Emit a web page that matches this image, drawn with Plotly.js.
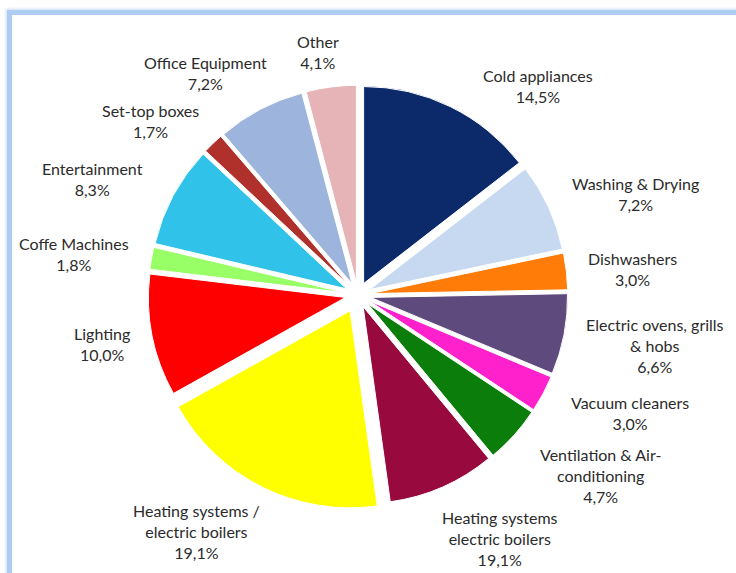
<!DOCTYPE html>
<html>
<head>
<meta charset="utf-8">
<script src="https://cdn.plot.ly/plotly-3.0.1.min.js"></script>
<style>
  html, body { margin: 0; padding: 0; background: #ffffff; overflow: hidden; }
  #frame { position: absolute; left: 7px; top: 10px; width: 800px; height: 700px;
           border-left: 5px solid #aecbf0; border-top: 5px solid #aecbf0;
           box-shadow: -1px -1px 3px #c8dcf5; }
  #chart { position: absolute; left: 0; top: 0; width: 736px; height: 573px; }
</style>
</head>
<body>
<div id="frame"></div>
<div id="chart"></div>
<script>
// ---- data ----
const categories = [
  "Cold appliances",
  "Washing & Drying",
  "Dishwashers",
  "Electric ovens, grills<br>& hobs",
  "Vacuum cleaners",
  "Ventilation & Air-<br>conditioning",
  "Heating systems<br>electric boilers",
  "Heating systems /<br>electric boilers",
  "Lighting",
  "Coffe Machines",
  "Entertainment",
  "Set-top boxes",
  "Office Equipment",
  "Other"
];
// slice sizes as drawn in the picture
const shares = [14.5, 7.2, 3.0, 6.6, 3.0, 4.7, 8.8, 19.1, 10.0, 1.8, 8.3, 1.7, 7.2, 4.1];
// percentages as printed on the labels
const shareLabels = ["14,5%", "7,2%", "3,0%", "6,6%", "3,0%", "4,7%", "19,1%", "19,1%", "10,0%", "1,8%", "8,3%", "1,7%", "7,2%", "4,1%"];

// ---- styles ----
const colors = ["#0c2a6a", "#c6d9f1", "#ff7c08", "#5f4a7e", "#ff22cc", "#0a7d0a", "#98093d",
                "#ffff00", "#ff0000", "#99ff66", "#30c2e8", "#b0302c", "#9db5dc", "#e6b4b6"];
const pulls = [0.065, 0.065, 0.065, 0.065, 0.065, 0.065, 0.065, 0.09, 0.065, 0.065, 0.065, 0.065, 0.065, 0.065];
// label anchor positions in pixels (x, y of text centre)
const labelPos = [[538, 86], [635, 194], [632, 269], [655, 345], [630, 413], [600, 475], [500, 538],
                  [196, 531], [102, 344], [74, 254], [92, 179], [150, 121], [205, 73], [318, 52]];

const W = 736, H = 573;
const annotations = categories.map((c, i) => ({
  text: c + "<br>" + shareLabels[i],
  xref: "paper", yref: "paper",
  x: labelPos[i][0] / W, y: 1 - labelPos[i][1] / H,
  xanchor: "center", yanchor: "middle",
  showarrow: false, align: "center",
  font: { family: "Lato, 'Open Sans', sans-serif", size: 16, color: "#2b2b2b" }
}));

const trace = {
  type: "pie",
  labels: categories,
  values: shares,
  sort: false,
  direction: "clockwise",
  rotation: 0,
  pull: pulls,
  textinfo: "none",
  hoverinfo: "label+percent",
  marker: { colors: colors, line: { color: "#ffffff", width: 1 } },
  domain: { x: [0.1947, 0.7781], y: [0.1105, 0.8599] },
  showlegend: false
};

const layout = {
  width: W, height: H,
  margin: { l: 0, r: 0, t: 0, b: 0 },
  paper_bgcolor: "rgba(0,0,0,0)",
  plot_bgcolor: "rgba(0,0,0,0)",
  showlegend: false,
  annotations: annotations
};

Plotly.newPlot("chart", [trace], layout, { displayModeBar: false, staticPlot: true });
</script>
</body>
</html>
